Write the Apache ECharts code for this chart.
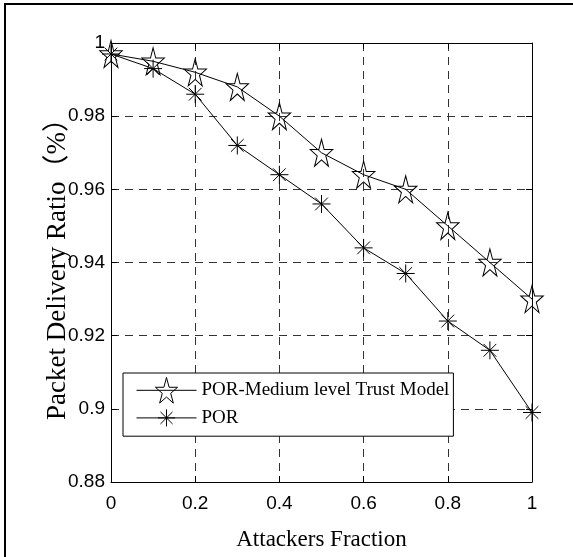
<!DOCTYPE html>
<html><head><meta charset="utf-8">
<script src="https://cdn.jsdelivr.net/npm/echarts@6/dist/echarts.min.js"></script>
<style>html,body{margin:0;padding:0;background:#fff}#c{width:573px;height:557px}</style>
</head><body><div id="c"></div>
<script>
// ---- data ----
const xValues = [0, 0.1, 0.2, 0.3, 0.4, 0.5, 0.6, 0.7, 0.8, 0.9, 1.0];
const trustModel = [0.997, 0.995, 0.992, 0.988, 0.980, 0.970, 0.964, 0.960, 0.950, 0.940, 0.930];
const por = [0.997, 0.993, 0.986, 0.972, 0.964, 0.956, 0.944, 0.937, 0.924, 0.916, 0.899];
const seriesNames = ['POR-Medium level Trust Model', 'POR'];
const xTickLabels = ['0', '0.2', '0.4', '0.6', '0.8', '1'];
const yTickLabels = ['0.88', '0.9', '0.92', '0.94', '0.96', '0.98', '1'];
const xTitle = 'Attackers Fraction';
const yTitle = 'Packet Delivery Ratio（%）';

// ---- markers ----
const starPath = 'path://M-110,0 M110,0 M0,-100 L22.45,-30.9 L95.1,-30.9 L36.3,11.8 L58.8,80.9 L0,38.2 L-58.8,80.9 L-36.3,11.8 L-95.1,-30.9 L-22.45,-30.9 Z';
const asteriskPath = 'path://M-150,-150 M150,150 M0,-100 L0,100 M-100,0 L100,0 M-70.7,-70.7 L70.7,70.7 M-70.7,70.7 L70.7,-70.7';

function lookup(arr) {
  return function (v) {
    const s = arr.find(t => Math.abs(parseFloat(t) - v) < 1e-6);
    return s === undefined ? '' : s;
  };
}

const chart = echarts.init(document.getElementById('c'), null, {renderer: 'canvas'});
const tickFont = {fontFamily: 'Liberation Sans', fontSize: 19, color: '#000'};
const dashed = {show: true, lineStyle: {color: '#333', width: 1, type: [8, 6]}};
const axisLine = {show: true, onZero: false, lineStyle: {color: '#000', width: 1}};
const tick = {show: true, inside: true, length: 6, lineStyle: {color: '#000'}};

chart.setOption({
  backgroundColor: '#fff',
  animation: false,
  grid: {left: 111, right: 41, top: 43, bottom: 75, containLabel: false},
  graphic: [
    {type: 'line', shape: {x1: 4, y1: 4, x2: 573, y2: 4}, style: {stroke: '#000', lineWidth: 2}},
    {type: 'line', shape: {x1: 5, y1: 4, x2: 5, y2: 557}, style: {stroke: '#000', lineWidth: 2}}
  ],
  legend: {
    orient: 'vertical',
    left: 123, top: 373,
    padding: [4, 4, 5, 13],
    itemGap: 1,
    itemWidth: 60, itemHeight: 32,
    backgroundColor: '#fff',
    borderColor: '#000', borderWidth: 1,
    itemStyle: {color: 'rgba(0,0,0,0)', borderColor: '#000', borderWidth: 1},
    lineStyle: {color: '#000', width: 1},
    textStyle: {fontFamily: 'Liberation Serif', fontSize: 19, color: '#000'},
    data: seriesNames
  },
  xAxis: [{
    type: 'value', min: 0, max: 1, interval: 0.2, position: 'bottom',
    name: xTitle, nameLocation: 'middle', nameGap: 46, nameMoveOverlap: false,
    nameTextStyle: {fontFamily: 'Liberation Serif', fontSize: 23, color: '#000'},
    axisLine: axisLine, axisTick: tick,
    axisLabel: Object.assign({margin: 12, formatter: lookup(xTickLabels)}, tickFont),
    splitLine: dashed
  }, {
    type: 'value', min: 0, max: 1, interval: 0.2, position: 'top',
    axisLine: axisLine, axisTick: tick, axisLabel: {show: false}, splitLine: {show: false}
  }],
  yAxis: [{
    type: 'value', min: 0.88, max: 1, interval: 0.02, position: 'left',
    name: yTitle, nameLocation: 'middle', nameGap: 40, nameMoveOverlap: false,
    nameTextStyle: {fontFamily: 'Liberation Serif, Noto Sans CJK SC', fontSize: 27, color: '#000'},
    axisLine: axisLine, axisTick: tick,
    axisLabel: Object.assign({margin: 6, formatter: lookup(yTickLabels)}, tickFont),
    splitLine: dashed
  }, {
    type: 'value', min: 0.88, max: 1, interval: 0.02, position: 'right',
    axisLine: axisLine, axisTick: tick, axisLabel: {show: false}, splitLine: {show: false}
  }],
  series: [{
    name: seriesNames[0], type: 'line',
    data: xValues.map((x, i) => [x, trustModel[i]]),
    symbol: starPath, symbolSize: [26, 27], showSymbol: true,
    lineStyle: {color: '#000', width: 1},
    itemStyle: {color: 'rgba(0,0,0,0)', borderColor: '#000', borderWidth: 1},
    z: 3
  }, {
    name: seriesNames[1], type: 'line',
    data: xValues.map((x, i) => [x, por[i]]),
    symbol: asteriskPath, symbolSize: [27, 27], showSymbol: true,
    lineStyle: {color: '#000', width: 1},
    itemStyle: {color: 'rgba(0,0,0,0)', borderColor: '#000', borderWidth: 1},
    z: 3
  }]
});
</script></body></html>
